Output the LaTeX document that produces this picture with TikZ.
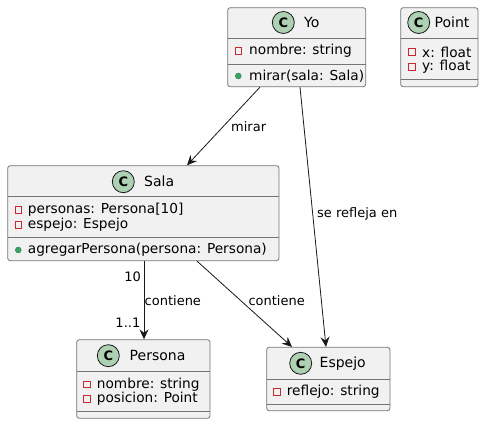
\documentclass[tikz,border=0pt]{standalone}
\usepackage{fontspec}
\setmainfont{DejaVu Sans}
\usetikzlibrary{arrows.meta}
\definecolor{boxfill}{HTML}{F1F1F1}
\definecolor{boxline}{HTML}{181818}
\definecolor{iconfill}{HTML}{ADD1B2}
\definecolor{privred}{HTML}{C82930}
\definecolor{pubgreen}{HTML}{38A365}
\tikzset{
  clsbox/.style={draw=boxline!60, fill=boxfill, line width=0.8pt, rounded corners=2.5pt, inner sep=0pt},
  sepline/.style={draw=boxline!60, line width=0.8pt},
  cicon/.style={circle, draw=boxline, fill=iconfill, line width=0.8pt, minimum size=22pt, inner sep=0pt, font=\fontsize{13}{13}\selectfont\bfseries},
  cname/.style={anchor=west, inner sep=0pt, font=\fontsize{14}{16}\selectfont},
  member/.style={anchor=west, inner sep=0pt, font=\fontsize{13.7}{16}\selectfont},
  privicon/.style={draw=privred, line width=0.8pt, fill=none, minimum size=6.5pt, inner sep=0pt},
  pubicon/.style={circle, fill=pubgreen, draw=pubgreen!70!black, line width=0.3pt, minimum size=6pt, inner sep=0pt},
  conn/.style={draw=boxline, line width=0.8pt, -{Stealth[length=10pt,width=9pt,inset=3.5pt]}},
  elabel/.style={inner sep=0pt, font=\fontsize{13}{15}\selectfont},
}
\begin{document}
\begin{tikzpicture}[x=1pt,y=-1pt]
\useasboundingbox (0,0) rectangle (484,425);

% ---- Yo ----
\node[clsbox, minimum width=138pt, minimum height=79pt] (yo) at (296.7,47.2) {};
\draw[sepline] (227.7,38.3) -- (365.7,38.3);
\draw[sepline] (227.7,64.3) -- (365.7,64.3);
\node[cicon] (yoicon) at (283.3,22.5) {C};
\node[cname] (yoname) at (304,22.5) {Yo};
\node[privicon] (yoa1i) at (238.3,51) {};
\node[member] (yoa1) at (249,51) {nombre: string};
\node[pubicon] (yom1i) at (238.3,76) {};
\node[member] (yom1) at (249,76) {mirar(sala: Sala)};

% ---- Point ----
\node[clsbox, minimum width=77.3pt, minimum height=79pt] (point) at (439.35,47.2) {};
\draw[sepline] (400.7,38.3) -- (478,38.3);
\draw[sepline] (400.7,79) -- (478,79);
\node[cicon] (pticon) at (418.7,22.5) {C};
\node[cname] (ptname) at (434.5,22.5) {Point};
\node[privicon] (pta1i) at (412,52) {};
\node[member] (pta1) at (422,52) {x: float};
\node[privicon] (pta2i) at (412,67) {};
\node[member] (pta2) at (422,67) {y: float};

% ---- Sala ----
\node[clsbox, minimum width=271.3pt, minimum height=95pt] (sala) at (143.35,213.2) {};
\draw[sepline] (7.7,196.7) -- (279,196.7);
\draw[sepline] (7.7,237.3) -- (279,237.3);
\node[cicon] (saicon) at (123.3,181.7) {C};
\node[cname] (saname) at (144,181.7) {Sala};
\node[privicon] (saa1i) at (18.3,210) {};
\node[member] (saa1) at (27.7,210) {personas: Persona[10]};
\node[privicon] (saa2i) at (18.3,225) {};
\node[member] (saa2) at (27.7,225) {espejo: Espejo};
\node[pubicon] (sam1i) at (18.3,250) {};
\node[member] (sam1) at (27.7,250) {agregarPersona(persona: Persona)};

% ---- Persona ----
\node[clsbox, minimum width=133.3pt, minimum height=78.6pt] (persona) at (143.35,379) {};
\draw[sepline] (76.7,371) -- (210,371);
\draw[sepline] (76.7,411) -- (210,411);
\node[cicon] (peicon) at (108.3,355.7) {C};
\node[cname] (pename) at (129.5,355.7) {Persona};
\node[privicon] (pea1i) at (86.7,384.5) {};
\node[member] (pea1) at (96.7,384.5) {nombre: string};
\node[privicon] (pea2i) at (86.7,399) {};
\node[member] (pea2) at (96.7,399) {posicion: Point};

% ---- Espejo ----
\node[clsbox, minimum width=123.3pt, minimum height=63.4pt] (espejo) at (328.35,379) {};
\draw[sepline] (266.7,379.3) -- (390,379.3);
\draw[sepline] (266.7,404) -- (390,404);
\node[cicon] (esicon) at (300.7,363.3) {C};
\node[cname] (esname) at (319.5,363.3) {Espejo};
\node[privicon] (esa1i) at (276.7,392) {};
\node[member] (esa1) at (286.7,392) {reflejo: string};

% ---- connectors ----
\coordinate (x260) at (260,0);
\coordinate (x187) at (187,0);
\coordinate (x300) at (300,0);
\coordinate (x326) at (326,0);
\coordinate (x197) at (197,0);
\coordinate (x292) at (292,0);
\coordinate (x144) at (144,0);

\draw[conn] (yo.south -| x260) -- (sala.north -| x187);
\draw[conn] (yo.south -| x300) -- (espejo.north -| x326);
\draw[conn] (sala.south -| x144) -- (persona.north -| x144);
\draw[conn] (sala.south -| x197) -- (espejo.north -| x292);

\node[elabel, anchor=west] (lmirar) at (231,127) {mirar};
\node[elabel, anchor=west] (lrefl) at (317,214) {se refleja en};
\node[elabel, anchor=east] (l10) at (141,277) {10};
\node[elabel, anchor=west] (lcont1) at (144.5,300.5) {contiene};
\node[elabel, anchor=east] (l11) at (140.5,322.5) {1..1};
\node[elabel, anchor=west] (lcont2) at (248.3,300.5) {contiene};
\end{tikzpicture}
\end{document}
